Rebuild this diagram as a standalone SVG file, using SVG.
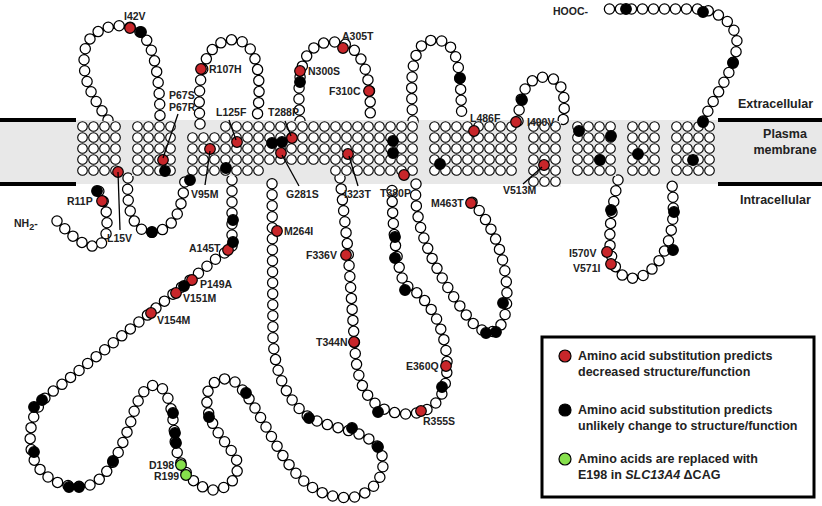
<svg xmlns="http://www.w3.org/2000/svg" width="822" height="506" viewBox="0 0 822 506">
<style>
text{font-family:"Liberation Sans",Arial,sans-serif;font-weight:bold;font-size:10.5px;fill:#222}
.lg{font-size:12.5px}
.ch1{fill:none;stroke:#000;stroke-width:11.5;stroke-linecap:round;stroke-dasharray:0 11}
.ch2{fill:none;stroke:#fff;stroke-width:9;stroke-linecap:round;stroke-dasharray:0 11}
.r{fill:#c8262a;stroke:#000;stroke-width:1.2}
.b{fill:#000;stroke:#000;stroke-width:1.2}
.g{fill:#86e04c;stroke:#000;stroke-width:1.2}
.ld{stroke:#000;stroke-width:1.3;fill:none}
.tm{fill:url(#res)}
</style>
<defs>
<pattern id="res" width="11" height="11" patternUnits="userSpaceOnUse">
<rect width="11" height="11" fill="#e8e8e8"/>
<circle cx="5.5" cy="5.5" r="4.8" fill="#fff" stroke="#000" stroke-width="1.1"/>
</pattern>
<path id="chain" d="M57,221 L66,230 L75,238 L86,245 L97,247 L105,240 L107,228 L107,215 L104,203 L99,192 L97,182
M108,120 C95,100 80,80 85,50 C90,25 125,20 140,32 C155,45 160,80 160,120
M128,178 C125,220 140,235 155,232 C175,228 182,210 185,180
M200,124 C198,90 198,45 230,40 C262,36 262,90 256,124
M232,180 L232,248 L217,258 L150,313 L55,390 C30,405 25,440 35,462 C45,480 65,490 90,485 C110,478 125,440 133,415 C138,398 145,386 155,385 C168,386 173,410 175,440 C178,470 195,487 212,490 C232,490 245,470 233,453 C220,435 205,420 207,395 C210,380 225,375 235,382 C255,400 270,440 293,470 C310,490 330,500 355,497 C380,490 390,465 378,447 C365,430 335,430 310,418 C285,400 275,370 273,340 L272,180
M300,121 C298,90 295,45 330,42 C365,40 372,80 370,121
M340,178 L348,250 L355,350 C358,395 375,412 405,414 C440,414 448,390 447,360 C444,320 425,295 405,285 C395,265 392,215 392,188
M416,184 C412,230 440,280 470,320 C485,338 500,335 505,315 C512,280 500,230 470,200
M413,121 C410,80 410,40 435,40 C462,40 460,80 462,121
M518,121 C520,95 525,78 545,77 C565,78 566,100 563,121
M618,180 C612,210 600,262 625,277 C650,285 672,250 673,215 C674,200 672,192 672,180
M703,121 C715,95 735,70 737,45 C738,25 720,12 700,9 L603,9"/>
</defs>
<g id="membrane">
<rect x="0" y="120" width="822" height="64" fill="#e8e8e8"/>
<rect x="0" y="118" width="76" height="4" fill="#000"/>
<rect x="0" y="182" width="76" height="4" fill="#000"/>
<rect x="718" y="118" width="104" height="4" fill="#000"/>
<rect x="718" y="182" width="104" height="4" fill="#000"/>
<text class="lg" x="738" y="108">Extracellular</text>
<text class="lg" x="785" y="138" text-anchor="middle">Plasma</text>
<text class="lg" x="785" y="154" text-anchor="middle">membrane</text>
<text class="lg" x="740" y="204">Intracellular</text>
</g>
<g id="connectors">
<use href="#chain" class="ch1"/>
<use href="#chain" class="ch2"/>
</g>
<g id="helices">
<rect class="tm" x="77" y="121" width="44" height="55"/>
<rect class="tm" x="132" y="121" width="44" height="55"/>
<rect class="tm" x="187" y="132" width="33" height="44"/>
<rect class="tm" x="220" y="121" width="44" height="55"/>
<rect class="tm" x="264" y="121" width="66" height="44"/>
<rect class="tm" x="330" y="121" width="44" height="55"/>
<rect class="tm" x="374" y="121" width="44" height="55"/>
<rect class="tm" x="429" y="121" width="44" height="55"/>
<rect class="tm" x="473" y="121" width="44" height="55"/>
<rect class="tm" x="528" y="121" width="33" height="66"/>
<rect class="tm" x="572" y="121" width="44" height="55"/>
<rect class="tm" x="627" y="121" width="33" height="55"/>
<rect class="tm" x="671" y="121" width="44" height="55"/>
</g>
<g id="residues">
<circle class="r" cx="130" cy="28" r="5.3"/><circle class="r" cx="102" cy="201" r="5.3"/>
<circle class="r" cx="118" cy="172" r="5.3"/><circle class="r" cx="163" cy="160" r="5.3"/>
<circle class="r" cx="210" cy="149" r="5.3"/><circle class="r" cx="237" cy="142" r="5.3"/>
<circle class="r" cx="292" cy="138" r="5.3"/><circle class="r" cx="281" cy="153" r="5.3"/>
<circle class="r" cx="201" cy="69" r="5.3"/><circle class="r" cx="300" cy="71" r="5.3"/>
<circle class="r" cx="343" cy="48" r="5.3"/><circle class="r" cx="369" cy="91" r="5.3"/>
<circle class="r" cx="348" cy="154" r="5.3"/><circle class="r" cx="277" cy="231" r="5.3"/>
<circle class="r" cx="404" cy="175" r="5.3"/><circle class="r" cx="474" cy="131" r="5.3"/>
<circle class="r" cx="516" cy="122" r="5.3"/><circle class="r" cx="544" cy="165" r="5.3"/>
<circle class="r" cx="471" cy="203" r="5.3"/><circle class="r" cx="228" cy="250" r="5.3"/>
<circle class="r" cx="192" cy="280" r="5.3"/><circle class="r" cx="176" cy="293" r="5.3"/>
<circle class="r" cx="151" cy="313" r="5.3"/><circle class="r" cx="346" cy="255" r="5.3"/>
<circle class="r" cx="354" cy="342" r="5.3"/><circle class="r" cx="446" cy="366" r="5.3"/>
<circle class="r" cx="421" cy="411" r="5.3"/><circle class="r" cx="607" cy="252" r="5.3"/>
<circle class="r" cx="611" cy="264" r="5.3"/>
<circle class="b" cx="141" cy="32" r="5.3"/><circle class="b" cx="97" cy="191" r="5.3"/>
<circle class="b" cx="165" cy="171" r="5.3"/><circle class="b" cx="152" cy="232" r="5.3"/>
<circle class="b" cx="190" cy="180" r="5.3"/><circle class="b" cx="226" cy="168" r="5.3"/>
<circle class="b" cx="272" cy="143" r="5.3"/><circle class="b" cx="282" cy="142" r="5.3"/>
<circle class="b" cx="300" cy="82" r="5.3"/><circle class="b" cx="393" cy="141" r="5.3"/>
<circle class="b" cx="393" cy="153" r="5.3"/><circle class="b" cx="460" cy="78" r="5.3"/>
<circle class="b" cx="522" cy="100" r="5.3"/><circle class="b" cx="440" cy="164" r="5.3"/>
<circle class="b" cx="579" cy="131" r="5.3"/><circle class="b" cx="611" cy="136" r="5.3"/>
<circle class="b" cx="600" cy="160" r="5.3"/><circle class="b" cx="638" cy="154" r="5.3"/>
<circle class="b" cx="693" cy="160" r="5.3"/><circle class="b" cx="703" cy="122" r="5.3"/>
<circle class="b" cx="733" cy="63" r="5.3"/><circle class="b" cx="703" cy="12" r="5.3"/>
<circle class="b" cx="626" cy="9" r="5.3"/><circle class="b" cx="611" cy="210" r="5.3"/>
<circle class="b" cx="673" cy="250" r="5.3"/><circle class="b" cx="674" cy="212" r="5.3"/>
<circle class="b" cx="395" cy="258" r="5.3"/><circle class="b" cx="405" cy="290" r="5.3"/>
<circle class="b" cx="378" cy="412" r="5.3"/><circle class="b" cx="442" cy="387" r="5.3"/>
<circle class="b" cx="233" cy="220" r="5.3"/><circle class="b" cx="233" cy="242" r="5.3"/>
<circle class="b" cx="395" cy="237" r="5.3"/><circle class="b" cx="184" cy="286" r="5.3"/>
<circle class="b" cx="42" cy="400" r="5.3"/><circle class="b" cx="34" cy="407" r="5.3"/>
<circle class="b" cx="34" cy="452" r="5.3"/><circle class="b" cx="69" cy="487" r="5.3"/>
<circle class="b" cx="79" cy="487" r="5.3"/><circle class="b" cx="113" cy="461" r="5.3"/>
<circle class="b" cx="173" cy="413" r="5.3"/><circle class="b" cx="175" cy="433" r="5.3"/>
<circle class="b" cx="176" cy="443" r="5.3"/><circle class="b" cx="209" cy="417" r="5.3"/>
<circle class="b" cx="246" cy="393" r="5.3"/><circle class="b" cx="352" cy="428" r="5.3"/>
<circle class="b" cx="309" cy="418" r="5.3"/><circle class="b" cx="378" cy="447" r="5.3"/>
<circle class="b" cx="486" cy="333" r="5.3"/><circle class="b" cx="496" cy="332" r="5.3"/>
<circle class="b" cx="503" cy="303" r="5.3"/>
<circle class="g" cx="181" cy="465" r="5.3"/><circle class="g" cx="186" cy="475" r="5.3"/>
</g>
<g id="labels">
<text x="14" y="227" font-size="13" font-weight="normal">NH<tspan font-size="9" dy="3">2</tspan><tspan dy="-3">-</tspan></text>
<text x="553" y="15" font-size="12">HOOC-</text>
<text x="124" y="20">I42V</text>
<text x="67" y="205">R11P</text>
<line class="ld" x1="118" y1="172" x2="120" y2="230"/><text x="107" y="242">L15V</text>
<text x="169" y="99">P67S</text><text x="169" y="111">P67R</text>
<line class="ld" x1="178" y1="114" x2="163" y2="158"/>
<text x="209" y="73">R107H</text>
<line class="ld" x1="205" y1="185" x2="210" y2="151"/><text x="191" y="198">V95M</text>
<line class="ld" x1="229" y1="120" x2="236" y2="140"/><text x="216" y="116">L125F</text>
<line class="ld" x1="285" y1="121" x2="291" y2="136"/><text x="268" y="116">T288P</text>
<line class="ld" x1="299" y1="186" x2="282" y2="155"/><text x="286" y="198">G281S</text>
<text x="308" y="75">N300S</text>
<text x="342" y="40">A305T</text>
<text x="329" y="95">F310C</text>
<line class="ld" x1="358" y1="186" x2="349" y2="156"/><text x="344" y="198">I323T</text>
<text x="284" y="235">M264I</text>
<text x="380" y="197">T380P</text>
<text x="470" y="122">L486F</text>
<text x="527" y="126">I490V</text>
<line class="ld" x1="523" y1="184" x2="542" y2="167"/><text x="503" y="194">V513M</text>
<text x="431" y="207">M463T</text>
<text x="189" y="252">A145T</text>
<text x="200" y="288">P149A</text>
<text x="183" y="302">V151M</text>
<text x="157" y="324">V154M</text>
<text x="306" y="259">F336V</text>
<text x="316" y="346">T344N</text>
<text x="406" y="370">E360Q</text>
<text x="423" y="425">R355S</text>
<text x="569" y="257">I570V</text>
<text x="573" y="272">V571I</text>
<text x="149" y="469">D198</text>
<text x="154" y="480">R199</text>
</g>
<g id="legend">
<rect x="542" y="337" width="272" height="160" fill="#fff" stroke="#000" stroke-width="3"/>
<circle class="r" cx="565" cy="356" r="6"/>
<circle class="b" cx="565" cy="410" r="6"/>
<circle class="g" cx="565" cy="459" r="6"/>
<text class="lg" x="578" y="360">Amino acid substitution predicts</text>
<text class="lg" x="578" y="376">decreased structure/function</text>
<text class="lg" x="578" y="414">Amino acid substitution predicts</text>
<text class="lg" x="578" y="430">unlikely change to structure/function</text>
<text class="lg" x="578" y="463">Amino acids are replaced with</text>
<text class="lg" x="578" y="479">E198 in <tspan font-style="italic">SLC13A4</tspan> ΔCAG</text>
</g>
</svg>
